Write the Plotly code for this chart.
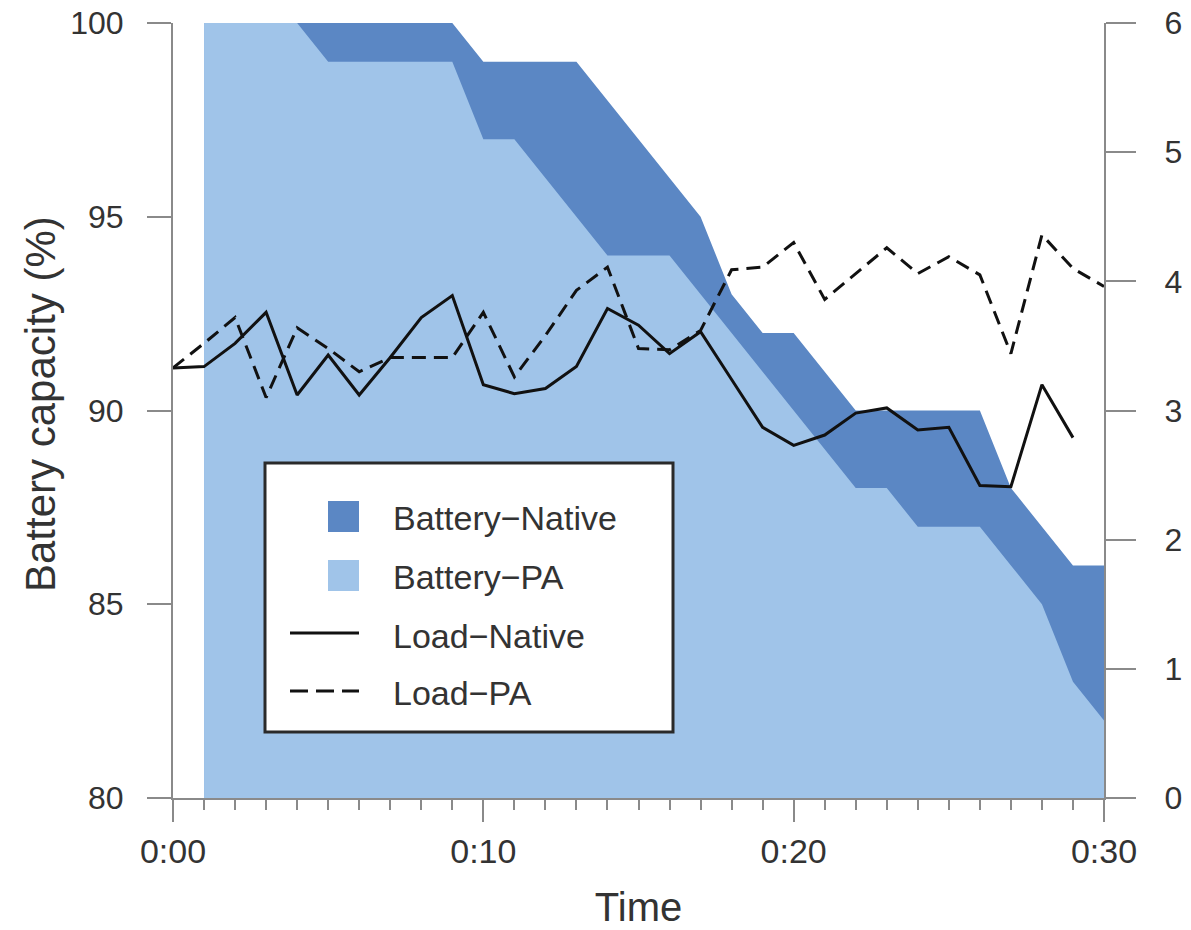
import plotly.graph_objects as go

# ---- data ----
minutes_batt = list(range(1, 31))
battery_native = [100, 100, 100, 100, 100, 100, 100, 100, 100, 99,
                  99, 99, 99, 98, 97, 96, 95, 93, 92, 92,
                  91, 90, 90, 90, 90, 90, 88, 87, 86, 86]
battery_pa = [100, 100, 100, 100, 99, 99, 99, 99, 99, 97,
              97, 96, 95, 94, 94, 94, 93, 92, 91, 90,
              89, 88, 88, 87, 87, 87, 86, 85, 83, 82]

minutes_load_native = list(range(0, 30))
load_native = [3.33, 3.34, 3.52, 3.76, 3.12, 3.43, 3.12, 3.41, 3.72, 3.89,
               3.20, 3.13, 3.17, 3.34, 3.79, 3.66, 3.44, 3.61, 3.24, 2.87,
               2.73, 2.81, 2.98, 3.02, 2.85, 2.87, 2.42, 2.41, 3.20, 2.79]
minutes_load_pa = list(range(0, 31))
load_pa = [3.33, 3.52, 3.72, 3.10, 3.64, 3.48, 3.30, 3.41, 3.41, 3.41,
           3.76, 3.26, 3.58, 3.93, 4.11, 3.48, 3.47, 3.62, 4.09, 4.11,
           4.30, 3.86, 4.06, 4.26, 4.06, 4.19, 4.05, 3.44, 4.36, 4.10, 3.96]

x_tickvals = [0, 10, 20, 30]
x_ticktext = ["0:00", "0:10", "0:20", "0:30"]
y_tickvals = [80, 85, 90, 95, 100]
y2_tickvals = [0, 1, 2, 3, 4, 5, 6]

DARK = "#5B87C4"
LIGHT = "#A0C4E9"
AXIS = "#8A8A8A"
TEXT = "#333333"
FONT = "Liberation Sans, Arial, Helvetica, sans-serif"

W, H = 1191, 930
PL, PR, PT, PB = 173, 1104, 23, 798   # plot area in page pixels
L, T = PL, PT
R, B = W - PR, H - PB
PW, PH = PR - PL, PB - PT


def px(xp):
    return (xp - PL) / PW


def py(yp):
    return (PB - yp) / PH


fig = go.Figure()
fig.add_trace(go.Scatter(x=minutes_batt, y=battery_native, fill="tozeroy",
                         mode="lines", line=dict(width=0, color=DARK),
                         fillcolor=DARK, name="Battery−Native", showlegend=False))
fig.add_trace(go.Scatter(x=minutes_batt, y=battery_pa, fill="tozeroy",
                         mode="lines", line=dict(width=0, color=LIGHT),
                         fillcolor=LIGHT, name="Battery−PA", showlegend=False))
fig.add_trace(go.Scatter(x=minutes_load_native, y=load_native, yaxis="y2",
                         mode="lines", line=dict(color="#111111", width=3),
                         name="Load−Native", showlegend=False))
fig.add_trace(go.Scatter(x=minutes_load_pa, y=load_pa, yaxis="y2",
                         mode="lines", line=dict(color="#111111", width=3, dash="14px,8px"),
                         name="Load−PA", showlegend=False))

shapes = []
annotations = []
# legend box
shapes.append(dict(type="rect", xref="paper", yref="paper", layer="above",
                   x0=px(265), x1=px(673), y0=py(463), y1=py(732),
                   fillcolor="white", line=dict(color="#2a2a2a", width=3)))
# swatches
shapes.append(dict(type="rect", xref="paper", yref="paper", layer="above",
                   x0=px(328), x1=px(359), y0=py(501), y1=py(532),
                   fillcolor=DARK, line=dict(width=0)))
shapes.append(dict(type="rect", xref="paper", yref="paper", layer="above",
                   x0=px(328), x1=px(359), y0=py(560), y1=py(591),
                   fillcolor=LIGHT, line=dict(width=0)))
shapes.append(dict(type="line", xref="paper", yref="paper", layer="above",
                   x0=px(290), x1=px(359), y0=py(633), y1=py(633),
                   line=dict(color="#111111", width=3)))
shapes.append(dict(type="line", xref="paper", yref="paper", layer="above",
                   x0=px(290), x1=px(359), y0=py(691), y1=py(691),
                   line=dict(color="#111111", width=3, dash="18px,8px")))
for label, yc in [("Battery−Native", 518), ("Battery−PA", 577),
                  ("Load−Native", 636), ("Load−PA", 693)]:
    annotations.append(dict(xref="paper", yref="paper", x=px(391), y=py(yc),
                            text=label, showarrow=False, xanchor="left", yanchor="middle",
                            font=dict(size=34, color=TEXT, family=FONT)))
# left axis title
annotations.append(dict(xref="paper", yref="paper", x=px(40), y=py(404),
                        text="Battery capacity (%)", showarrow=False, textangle=-90,
                        xanchor="center", yanchor="middle",
                        font=dict(size=42, color=TEXT, family=FONT)))

fig.update_layout(
    width=W, height=H,
    margin=dict(l=L, r=R, t=T, b=B, autoexpand=False),
    paper_bgcolor="white", plot_bgcolor="white",
    font=dict(family=FONT, color=TEXT),
    showlegend=False,
    xaxis=dict(range=[0, 30], tickvals=x_tickvals, ticktext=x_ticktext,
               ticks="outside", ticklen=22, tickwidth=2, tickcolor=AXIS,
               showline=True, linecolor=AXIS, linewidth=2,
               showgrid=False, zeroline=False, automargin=False,
               ticklabeloverflow="allow",
               tickfont=dict(size=34, color=TEXT),
               minor=dict(dtick=1, ticks="outside", ticklen=10, tickwidth=2, tickcolor=AXIS),
               title=dict(text="Time", font=dict(size=40, color=TEXT), standoff=24)),
    yaxis=dict(range=[80, 100], tickvals=y_tickvals,
               ticks="outside", ticklen=24, tickwidth=2, tickcolor=AXIS,
               showline=True, linecolor=AXIS, linewidth=2,
               showgrid=False, zeroline=False, automargin=False,
               ticklabelstandoff=17, ticklabeloverflow="allow",
               tickfont=dict(size=32, color=TEXT)),
    yaxis2=dict(range=[0, 6], tickvals=y2_tickvals, overlaying="y", side="right",
                ticks="outside", ticklen=30, tickwidth=2, tickcolor=AXIS,
                showline=True, linecolor=AXIS, linewidth=2,
                showgrid=False, zeroline=False, automargin=False,
                ticklabelstandoff=22, ticklabeloverflow="allow",
                tickfont=dict(size=32, color=TEXT)),
    shapes=shapes,
    annotations=annotations,
)

# remove the browser's default 8px body margin so the figure sits at the page corner
fig.write_html("out.html", config={"displayModeBar": False},
               post_script="document.body.style.margin='0';")
